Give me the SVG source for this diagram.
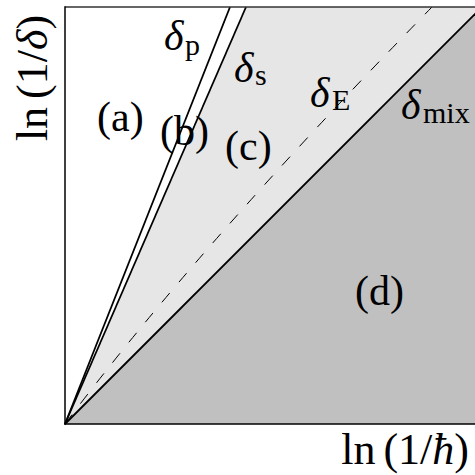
<svg xmlns="http://www.w3.org/2000/svg" width="475" height="475" viewBox="0 0 475 475">
<defs>
<style>
.lbl{font-family:"Liberation Serif","DejaVu Serif",serif;font-size:42px;fill:#000}
.ax{font-family:"Liberation Serif","DejaVu Serif",serif;font-size:44px;fill:#000}
.sub{font-family:"Liberation Serif","DejaVu Serif",serif;font-size:30px;fill:#000}
.it{font-style:italic}
.ln{stroke:#000;stroke-width:1.8;fill:none}
</style>
</defs>
<rect x="0" y="0" width="475" height="475" fill="#fff"/>
<g id="regions">
<polygon points="65,424 246,7 480,7 480,9" fill="#e6e6e6"/>
<polygon points="65,424 480,9 480,424" fill="#c0c0c0"/>
</g>
<g id="curves">
<line class="ln" x1="65" y1="424" x2="230" y2="7"/>
<line class="ln" x1="65" y1="424" x2="246" y2="7"/>
<line class="ln" x1="65" y1="424" x2="480" y2="9"/>
<path d="M65,424 Q197.5,247 432,7" fill="none" stroke="#000" stroke-width="1" stroke-dasharray="12,14"/>
</g>
<g id="axes">
<line x1="65" y1="7" x2="475" y2="7" stroke="#333" stroke-width="1.5"/>
<line x1="65" y1="6.3" x2="65" y2="424.7" stroke="#000" stroke-width="1.5"/>
<line x1="64.3" y1="424" x2="475" y2="424" stroke="#000" stroke-width="1.5"/>
</g>
<g id="curve-labels">
<text class="lbl it" x="164" y="50">δ</text><text class="sub" x="185" y="55">p</text>
<text class="lbl it" x="234" y="82">δ</text><text class="sub" x="255" y="85">s</text>
<text class="lbl it" x="310" y="107">δ</text><text class="sub" x="332" y="110">E</text>
<text class="lbl it" x="401" y="119">δ</text><text class="sub" x="423" y="123">mix</text>
</g>
<g id="region-labels">
<text class="lbl" x="97" y="131">(a)</text>
<text class="lbl" x="160" y="145">(b)</text>
<text class="lbl" x="225" y="160">(c)</text>
<text class="lbl" x="355" y="305">(d)</text>
</g>
<g id="axis-labels">
<text class="ax" x="469" y="464" text-anchor="end">ln<tspan dx="8">(1/</tspan><tspan class="it">ħ</tspan>)</text>
<text class="ax" transform="translate(47,78) rotate(-90)" text-anchor="middle">ln<tspan dx="8">(1/</tspan><tspan class="it">δ</tspan>)</text>
</g>
</svg>
